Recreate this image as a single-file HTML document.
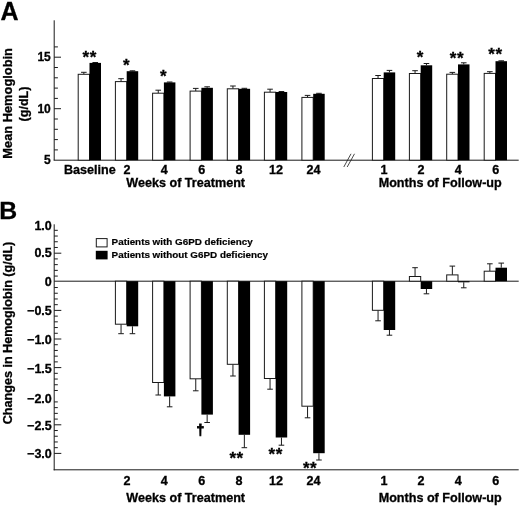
<!DOCTYPE html><html><head><meta charset="utf-8"><title>Figure</title>
<style>html,body{margin:0;padding:0;background:#fff;}svg{display:block;}text{font-family:"Liberation Sans",Arial,Helvetica,sans-serif;font-weight:bold;fill:#000;stroke:#000;stroke-width:0.3px;}</style></head><body>
<svg width="520" height="506" viewBox="0 0 520 506">
<rect width="520" height="506" fill="#fff"/>
<text x="0.40" y="19.70" font-size="25" text-anchor="start" >A</text>
<line x1="54.20" y1="20.30" x2="54.20" y2="160.30" stroke="#1a1a1a" stroke-width="1.0"/>
<line x1="53.70" y1="160.20" x2="518.70" y2="160.20" stroke="#1a1a1a" stroke-width="1.0"/>
<line x1="54.20" y1="149.90" x2="57.90" y2="149.90" stroke="#1a1a1a" stroke-width="1.0"/>
<line x1="54.20" y1="139.60" x2="57.90" y2="139.60" stroke="#1a1a1a" stroke-width="1.0"/>
<line x1="54.20" y1="129.30" x2="57.90" y2="129.30" stroke="#1a1a1a" stroke-width="1.0"/>
<line x1="54.20" y1="119.00" x2="57.90" y2="119.00" stroke="#1a1a1a" stroke-width="1.0"/>
<line x1="54.20" y1="108.70" x2="61.00" y2="108.70" stroke="#1a1a1a" stroke-width="1.0"/>
<line x1="54.20" y1="98.40" x2="57.90" y2="98.40" stroke="#1a1a1a" stroke-width="1.0"/>
<line x1="54.20" y1="88.10" x2="57.90" y2="88.10" stroke="#1a1a1a" stroke-width="1.0"/>
<line x1="54.20" y1="77.80" x2="57.90" y2="77.80" stroke="#1a1a1a" stroke-width="1.0"/>
<line x1="54.20" y1="67.50" x2="57.90" y2="67.50" stroke="#1a1a1a" stroke-width="1.0"/>
<line x1="54.20" y1="57.20" x2="61.00" y2="57.20" stroke="#1a1a1a" stroke-width="1.0"/>
<line x1="54.20" y1="46.90" x2="57.90" y2="46.90" stroke="#1a1a1a" stroke-width="1.0"/>
<text x="50.80" y="61.20" font-size="12.0" text-anchor="end" >15</text>
<text x="50.80" y="113.00" font-size="12.0" text-anchor="end" >10</text>
<text x="50.80" y="164.40" font-size="12.0" text-anchor="end" >5</text>
<text transform="translate(12.2,103.4) rotate(-90)" font-size="12.85" text-anchor="middle">Mean Hemoglobin</text>
<text transform="translate(27.6,104) rotate(-90)" font-size="12.6" text-anchor="middle">(g/dL)</text>
<line x1="83.85" y1="74.30" x2="83.85" y2="72.30" stroke="#1a1a1a" stroke-width="1.0"/>
<line x1="81.05" y1="72.30" x2="86.65" y2="72.30" stroke="#1a1a1a" stroke-width="1.0"/>
<line x1="95.25" y1="62.90" x2="95.25" y2="62.50" stroke="#1a1a1a" stroke-width="1.0"/>
<line x1="92.45" y1="62.50" x2="98.05" y2="62.50" stroke="#1a1a1a" stroke-width="1.0"/>
<rect x="78.20" y="74.30" width="11.30" height="85.90" fill="#fff" stroke="#1a1a1a" stroke-width="1"/>
<rect x="89.50" y="62.90" width="11.50" height="97.30" fill="#000"/>
<line x1="121.05" y1="81.60" x2="121.05" y2="78.70" stroke="#1a1a1a" stroke-width="1.0"/>
<line x1="118.25" y1="78.70" x2="123.85" y2="78.70" stroke="#1a1a1a" stroke-width="1.0"/>
<line x1="132.45" y1="71.20" x2="132.45" y2="70.80" stroke="#1a1a1a" stroke-width="1.0"/>
<line x1="129.65" y1="70.80" x2="135.25" y2="70.80" stroke="#1a1a1a" stroke-width="1.0"/>
<rect x="115.40" y="81.60" width="11.30" height="78.60" fill="#fff" stroke="#1a1a1a" stroke-width="1"/>
<rect x="126.70" y="71.20" width="11.50" height="89.00" fill="#000"/>
<line x1="158.25" y1="93.20" x2="158.25" y2="90.20" stroke="#1a1a1a" stroke-width="1.0"/>
<line x1="155.45" y1="90.20" x2="161.05" y2="90.20" stroke="#1a1a1a" stroke-width="1.0"/>
<line x1="169.65" y1="82.40" x2="169.65" y2="82.00" stroke="#1a1a1a" stroke-width="1.0"/>
<line x1="166.85" y1="82.00" x2="172.45" y2="82.00" stroke="#1a1a1a" stroke-width="1.0"/>
<rect x="152.60" y="93.20" width="11.30" height="67.00" fill="#fff" stroke="#1a1a1a" stroke-width="1"/>
<rect x="163.90" y="82.40" width="11.50" height="77.80" fill="#000"/>
<line x1="195.75" y1="91.10" x2="195.75" y2="88.40" stroke="#1a1a1a" stroke-width="1.0"/>
<line x1="192.95" y1="88.40" x2="198.55" y2="88.40" stroke="#1a1a1a" stroke-width="1.0"/>
<line x1="207.15" y1="87.80" x2="207.15" y2="86.80" stroke="#1a1a1a" stroke-width="1.0"/>
<line x1="204.35" y1="86.80" x2="209.95" y2="86.80" stroke="#1a1a1a" stroke-width="1.0"/>
<rect x="190.10" y="91.10" width="11.30" height="69.10" fill="#fff" stroke="#1a1a1a" stroke-width="1"/>
<rect x="201.40" y="87.80" width="11.50" height="72.40" fill="#000"/>
<line x1="232.95" y1="88.80" x2="232.95" y2="86.00" stroke="#1a1a1a" stroke-width="1.0"/>
<line x1="230.15" y1="86.00" x2="235.75" y2="86.00" stroke="#1a1a1a" stroke-width="1.0"/>
<line x1="244.35" y1="88.80" x2="244.35" y2="88.30" stroke="#1a1a1a" stroke-width="1.0"/>
<line x1="241.55" y1="88.30" x2="247.15" y2="88.30" stroke="#1a1a1a" stroke-width="1.0"/>
<rect x="227.30" y="88.80" width="11.30" height="71.40" fill="#fff" stroke="#1a1a1a" stroke-width="1"/>
<rect x="238.60" y="88.80" width="11.50" height="71.40" fill="#000"/>
<line x1="270.05" y1="92.20" x2="270.05" y2="89.20" stroke="#1a1a1a" stroke-width="1.0"/>
<line x1="267.25" y1="89.20" x2="272.85" y2="89.20" stroke="#1a1a1a" stroke-width="1.0"/>
<line x1="281.45" y1="92.00" x2="281.45" y2="91.50" stroke="#1a1a1a" stroke-width="1.0"/>
<line x1="278.65" y1="91.50" x2="284.25" y2="91.50" stroke="#1a1a1a" stroke-width="1.0"/>
<rect x="264.40" y="92.20" width="11.30" height="68.00" fill="#fff" stroke="#1a1a1a" stroke-width="1"/>
<rect x="275.70" y="92.00" width="11.50" height="68.20" fill="#000"/>
<line x1="307.55" y1="97.40" x2="307.55" y2="95.40" stroke="#1a1a1a" stroke-width="1.0"/>
<line x1="304.75" y1="95.40" x2="310.35" y2="95.40" stroke="#1a1a1a" stroke-width="1.0"/>
<line x1="318.95" y1="93.80" x2="318.95" y2="93.30" stroke="#1a1a1a" stroke-width="1.0"/>
<line x1="316.15" y1="93.30" x2="321.75" y2="93.30" stroke="#1a1a1a" stroke-width="1.0"/>
<rect x="301.90" y="97.40" width="11.30" height="62.80" fill="#fff" stroke="#1a1a1a" stroke-width="1"/>
<rect x="313.20" y="93.80" width="11.50" height="66.40" fill="#000"/>
<line x1="378.05" y1="78.50" x2="378.05" y2="75.50" stroke="#1a1a1a" stroke-width="1.0"/>
<line x1="375.25" y1="75.50" x2="380.85" y2="75.50" stroke="#1a1a1a" stroke-width="1.0"/>
<line x1="389.45" y1="72.40" x2="389.45" y2="70.40" stroke="#1a1a1a" stroke-width="1.0"/>
<line x1="386.65" y1="70.40" x2="392.25" y2="70.40" stroke="#1a1a1a" stroke-width="1.0"/>
<rect x="372.40" y="78.50" width="11.30" height="81.70" fill="#fff" stroke="#1a1a1a" stroke-width="1"/>
<rect x="383.70" y="72.40" width="11.50" height="87.80" fill="#000"/>
<line x1="415.05" y1="73.50" x2="415.05" y2="70.70" stroke="#1a1a1a" stroke-width="1.0"/>
<line x1="412.25" y1="70.70" x2="417.85" y2="70.70" stroke="#1a1a1a" stroke-width="1.0"/>
<line x1="426.45" y1="65.30" x2="426.45" y2="63.50" stroke="#1a1a1a" stroke-width="1.0"/>
<line x1="423.65" y1="63.50" x2="429.25" y2="63.50" stroke="#1a1a1a" stroke-width="1.0"/>
<rect x="409.40" y="73.50" width="11.30" height="86.70" fill="#fff" stroke="#1a1a1a" stroke-width="1"/>
<rect x="420.70" y="65.30" width="11.50" height="94.90" fill="#000"/>
<line x1="452.35" y1="74.20" x2="452.35" y2="72.40" stroke="#1a1a1a" stroke-width="1.0"/>
<line x1="449.55" y1="72.40" x2="455.15" y2="72.40" stroke="#1a1a1a" stroke-width="1.0"/>
<line x1="463.75" y1="64.40" x2="463.75" y2="62.80" stroke="#1a1a1a" stroke-width="1.0"/>
<line x1="460.95" y1="62.80" x2="466.55" y2="62.80" stroke="#1a1a1a" stroke-width="1.0"/>
<rect x="446.70" y="74.20" width="11.30" height="86.00" fill="#fff" stroke="#1a1a1a" stroke-width="1"/>
<rect x="458.00" y="64.40" width="11.50" height="95.80" fill="#000"/>
<line x1="489.85" y1="73.40" x2="489.85" y2="71.70" stroke="#1a1a1a" stroke-width="1.0"/>
<line x1="487.05" y1="71.70" x2="492.65" y2="71.70" stroke="#1a1a1a" stroke-width="1.0"/>
<line x1="501.25" y1="61.20" x2="501.25" y2="60.80" stroke="#1a1a1a" stroke-width="1.0"/>
<line x1="498.45" y1="60.80" x2="504.05" y2="60.80" stroke="#1a1a1a" stroke-width="1.0"/>
<rect x="484.20" y="73.40" width="11.30" height="86.80" fill="#fff" stroke="#1a1a1a" stroke-width="1"/>
<rect x="495.50" y="61.20" width="11.50" height="99.00" fill="#000"/>
<text x="89.80" y="173.50" font-size="12.6" text-anchor="middle" >Baseline</text>
<text x="127.00" y="173.50" font-size="12.6" text-anchor="middle" >2</text>
<text x="164.20" y="173.50" font-size="12.6" text-anchor="middle" >4</text>
<text x="201.70" y="173.50" font-size="12.6" text-anchor="middle" >6</text>
<text x="238.90" y="173.50" font-size="12.6" text-anchor="middle" >8</text>
<text x="276.00" y="173.50" font-size="12.6" text-anchor="middle" >12</text>
<text x="313.50" y="173.50" font-size="12.6" text-anchor="middle" >24</text>
<text x="384.00" y="173.50" font-size="12.6" text-anchor="middle" >1</text>
<text x="421.00" y="173.50" font-size="12.6" text-anchor="middle" >2</text>
<text x="458.30" y="173.50" font-size="12.6" text-anchor="middle" >4</text>
<text x="495.80" y="173.50" font-size="12.6" text-anchor="middle" >6</text>
<text x="185.70" y="187.30" font-size="12.6" text-anchor="middle" >Weeks of Treatment</text>
<text x="440.20" y="187.30" font-size="12.6" text-anchor="middle" >Months of Follow-up</text>
<line x1="343.80" y1="167.00" x2="351.00" y2="153.80" stroke="#1a1a1a" stroke-width="0.8"/>
<line x1="347.20" y1="167.00" x2="354.50" y2="153.80" stroke="#1a1a1a" stroke-width="0.8"/>
<text x="89.80" y="62.50" font-size="17" text-anchor="middle" letter-spacing="0.6">**</text>
<text x="126.40" y="70.80" font-size="17" text-anchor="middle" >*</text>
<text x="163.40" y="82.00" font-size="17" text-anchor="middle" >*</text>
<text x="420.00" y="63.00" font-size="17" text-anchor="middle" >*</text>
<text x="456.90" y="63.60" font-size="17" text-anchor="middle" letter-spacing="0.6">**</text>
<text x="495.40" y="60.40" font-size="17" text-anchor="middle" letter-spacing="0.6">**</text>
<text x="-0.80" y="219.40" font-size="24.8" text-anchor="start" >B</text>
<line x1="54.20" y1="224.30" x2="54.20" y2="470.30" stroke="#1a1a1a" stroke-width="1.0"/>
<line x1="53.70" y1="469.80" x2="518.70" y2="469.80" stroke="#1a1a1a" stroke-width="1.0"/>
<line x1="54.20" y1="281.20" x2="518.70" y2="281.20" stroke="#1a1a1a" stroke-width="1.0"/>
<line x1="54.20" y1="230.32" x2="57.80" y2="230.32" stroke="#1a1a1a" stroke-width="1.0"/>
<line x1="54.20" y1="236.04" x2="57.80" y2="236.04" stroke="#1a1a1a" stroke-width="1.0"/>
<line x1="54.20" y1="241.76" x2="57.80" y2="241.76" stroke="#1a1a1a" stroke-width="1.0"/>
<line x1="54.20" y1="247.48" x2="57.80" y2="247.48" stroke="#1a1a1a" stroke-width="1.0"/>
<line x1="54.20" y1="253.20" x2="61.30" y2="253.20" stroke="#1a1a1a" stroke-width="1.0"/>
<line x1="54.20" y1="258.92" x2="57.80" y2="258.92" stroke="#1a1a1a" stroke-width="1.0"/>
<line x1="54.20" y1="264.64" x2="57.80" y2="264.64" stroke="#1a1a1a" stroke-width="1.0"/>
<line x1="54.20" y1="270.36" x2="57.80" y2="270.36" stroke="#1a1a1a" stroke-width="1.0"/>
<line x1="54.20" y1="276.08" x2="57.80" y2="276.08" stroke="#1a1a1a" stroke-width="1.0"/>
<line x1="54.20" y1="287.52" x2="57.80" y2="287.52" stroke="#1a1a1a" stroke-width="1.0"/>
<line x1="54.20" y1="293.24" x2="57.80" y2="293.24" stroke="#1a1a1a" stroke-width="1.0"/>
<line x1="54.20" y1="298.96" x2="57.80" y2="298.96" stroke="#1a1a1a" stroke-width="1.0"/>
<line x1="54.20" y1="304.68" x2="57.80" y2="304.68" stroke="#1a1a1a" stroke-width="1.0"/>
<line x1="54.20" y1="310.40" x2="61.30" y2="310.40" stroke="#1a1a1a" stroke-width="1.0"/>
<line x1="54.20" y1="316.12" x2="57.80" y2="316.12" stroke="#1a1a1a" stroke-width="1.0"/>
<line x1="54.20" y1="321.84" x2="57.80" y2="321.84" stroke="#1a1a1a" stroke-width="1.0"/>
<line x1="54.20" y1="327.56" x2="57.80" y2="327.56" stroke="#1a1a1a" stroke-width="1.0"/>
<line x1="54.20" y1="333.28" x2="57.80" y2="333.28" stroke="#1a1a1a" stroke-width="1.0"/>
<line x1="54.20" y1="339.00" x2="61.30" y2="339.00" stroke="#1a1a1a" stroke-width="1.0"/>
<line x1="54.20" y1="344.72" x2="57.80" y2="344.72" stroke="#1a1a1a" stroke-width="1.0"/>
<line x1="54.20" y1="350.44" x2="57.80" y2="350.44" stroke="#1a1a1a" stroke-width="1.0"/>
<line x1="54.20" y1="356.16" x2="57.80" y2="356.16" stroke="#1a1a1a" stroke-width="1.0"/>
<line x1="54.20" y1="361.88" x2="57.80" y2="361.88" stroke="#1a1a1a" stroke-width="1.0"/>
<line x1="54.20" y1="367.60" x2="61.30" y2="367.60" stroke="#1a1a1a" stroke-width="1.0"/>
<line x1="54.20" y1="373.32" x2="57.80" y2="373.32" stroke="#1a1a1a" stroke-width="1.0"/>
<line x1="54.20" y1="379.04" x2="57.80" y2="379.04" stroke="#1a1a1a" stroke-width="1.0"/>
<line x1="54.20" y1="384.76" x2="57.80" y2="384.76" stroke="#1a1a1a" stroke-width="1.0"/>
<line x1="54.20" y1="390.48" x2="57.80" y2="390.48" stroke="#1a1a1a" stroke-width="1.0"/>
<line x1="54.20" y1="401.92" x2="57.80" y2="401.92" stroke="#1a1a1a" stroke-width="1.0"/>
<line x1="54.20" y1="407.64" x2="57.80" y2="407.64" stroke="#1a1a1a" stroke-width="1.0"/>
<line x1="54.20" y1="413.36" x2="57.80" y2="413.36" stroke="#1a1a1a" stroke-width="1.0"/>
<line x1="54.20" y1="419.08" x2="57.80" y2="419.08" stroke="#1a1a1a" stroke-width="1.0"/>
<line x1="54.20" y1="424.80" x2="61.30" y2="424.80" stroke="#1a1a1a" stroke-width="1.0"/>
<line x1="54.20" y1="430.52" x2="57.80" y2="430.52" stroke="#1a1a1a" stroke-width="1.0"/>
<line x1="54.20" y1="436.24" x2="57.80" y2="436.24" stroke="#1a1a1a" stroke-width="1.0"/>
<line x1="54.20" y1="441.96" x2="57.80" y2="441.96" stroke="#1a1a1a" stroke-width="1.0"/>
<line x1="54.20" y1="447.68" x2="57.80" y2="447.68" stroke="#1a1a1a" stroke-width="1.0"/>
<line x1="54.20" y1="453.40" x2="61.30" y2="453.40" stroke="#1a1a1a" stroke-width="1.0"/>
<text x="51.80" y="229.70" font-size="12.5" text-anchor="end" >1.0</text>
<text x="51.80" y="256.60" font-size="12.5" text-anchor="end" >0.5</text>
<text x="51.80" y="285.90" font-size="12.5" text-anchor="end" >0</text>
<text x="51.80" y="314.90" font-size="12.5" text-anchor="end" >−0.5</text>
<text x="51.80" y="343.70" font-size="12.5" text-anchor="end" >−1.0</text>
<text x="51.80" y="372.60" font-size="12.5" text-anchor="end" >−1.5</text>
<text x="51.80" y="403.30" font-size="12.5" text-anchor="end" >−2.0</text>
<text x="51.80" y="429.60" font-size="12.5" text-anchor="end" >−2.5</text>
<text x="51.80" y="457.90" font-size="12.5" text-anchor="end" >−3.0</text>
<text transform="translate(12.0,333) rotate(-90)" font-size="12.6" text-anchor="middle">Changes in Hemoglobin (g/dL)</text>
<rect x="96.3" y="238.6" width="10.8" height="8.3" fill="#fff" stroke="#1a1a1a" stroke-width="1"/>
<rect x="95.8" y="250.8" width="11.8" height="8.6" fill="#000"/>
<text x="111.60" y="245.30" font-size="9.85" text-anchor="start" style="stroke-width:0.2px">Patients with G6PD deficiency</text>
<text x="111.60" y="258.30" font-size="9.85" text-anchor="start" style="stroke-width:0.2px">Patients without G6PD deficiency</text>
<line x1="121.05" y1="324.20" x2="121.05" y2="333.70" stroke="#1a1a1a" stroke-width="1.0"/>
<line x1="118.25" y1="333.70" x2="123.85" y2="333.70" stroke="#1a1a1a" stroke-width="1.0"/>
<line x1="132.45" y1="326.30" x2="132.45" y2="333.70" stroke="#1a1a1a" stroke-width="1.0"/>
<line x1="129.65" y1="333.70" x2="135.25" y2="333.70" stroke="#1a1a1a" stroke-width="1.0"/>
<rect x="115.40" y="281.20" width="11.30" height="43.00" fill="#fff" stroke="#1a1a1a" stroke-width="1"/>
<rect x="126.70" y="281.20" width="11.50" height="45.10" fill="#000"/>
<line x1="158.25" y1="382.50" x2="158.25" y2="395.00" stroke="#1a1a1a" stroke-width="1.0"/>
<line x1="155.45" y1="395.00" x2="161.05" y2="395.00" stroke="#1a1a1a" stroke-width="1.0"/>
<line x1="169.65" y1="396.40" x2="169.65" y2="406.80" stroke="#1a1a1a" stroke-width="1.0"/>
<line x1="166.85" y1="406.80" x2="172.45" y2="406.80" stroke="#1a1a1a" stroke-width="1.0"/>
<rect x="152.60" y="281.20" width="11.30" height="101.30" fill="#fff" stroke="#1a1a1a" stroke-width="1"/>
<rect x="163.90" y="281.20" width="11.50" height="115.20" fill="#000"/>
<line x1="195.75" y1="378.80" x2="195.75" y2="390.80" stroke="#1a1a1a" stroke-width="1.0"/>
<line x1="192.95" y1="390.80" x2="198.55" y2="390.80" stroke="#1a1a1a" stroke-width="1.0"/>
<line x1="207.15" y1="414.60" x2="207.15" y2="422.50" stroke="#1a1a1a" stroke-width="1.0"/>
<line x1="204.35" y1="422.50" x2="209.95" y2="422.50" stroke="#1a1a1a" stroke-width="1.0"/>
<rect x="190.10" y="281.20" width="11.30" height="97.60" fill="#fff" stroke="#1a1a1a" stroke-width="1"/>
<rect x="201.40" y="281.20" width="11.50" height="133.40" fill="#000"/>
<line x1="232.95" y1="364.30" x2="232.95" y2="376.00" stroke="#1a1a1a" stroke-width="1.0"/>
<line x1="230.15" y1="376.00" x2="235.75" y2="376.00" stroke="#1a1a1a" stroke-width="1.0"/>
<line x1="244.35" y1="434.80" x2="244.35" y2="447.70" stroke="#1a1a1a" stroke-width="1.0"/>
<line x1="241.55" y1="447.70" x2="247.15" y2="447.70" stroke="#1a1a1a" stroke-width="1.0"/>
<rect x="227.30" y="281.20" width="11.30" height="83.10" fill="#fff" stroke="#1a1a1a" stroke-width="1"/>
<rect x="238.60" y="281.20" width="11.50" height="153.60" fill="#000"/>
<line x1="270.05" y1="378.50" x2="270.05" y2="389.20" stroke="#1a1a1a" stroke-width="1.0"/>
<line x1="267.25" y1="389.20" x2="272.85" y2="389.20" stroke="#1a1a1a" stroke-width="1.0"/>
<line x1="281.45" y1="437.50" x2="281.45" y2="445.20" stroke="#1a1a1a" stroke-width="1.0"/>
<line x1="278.65" y1="445.20" x2="284.25" y2="445.20" stroke="#1a1a1a" stroke-width="1.0"/>
<rect x="264.40" y="281.20" width="11.30" height="97.30" fill="#fff" stroke="#1a1a1a" stroke-width="1"/>
<rect x="275.70" y="281.20" width="11.50" height="156.30" fill="#000"/>
<line x1="307.55" y1="406.20" x2="307.55" y2="417.80" stroke="#1a1a1a" stroke-width="1.0"/>
<line x1="304.75" y1="417.80" x2="310.35" y2="417.80" stroke="#1a1a1a" stroke-width="1.0"/>
<line x1="318.95" y1="453.20" x2="318.95" y2="460.00" stroke="#1a1a1a" stroke-width="1.0"/>
<line x1="316.15" y1="460.00" x2="321.75" y2="460.00" stroke="#1a1a1a" stroke-width="1.0"/>
<rect x="301.90" y="281.20" width="11.30" height="125.00" fill="#fff" stroke="#1a1a1a" stroke-width="1"/>
<rect x="313.20" y="281.20" width="11.50" height="172.00" fill="#000"/>
<line x1="378.05" y1="310.30" x2="378.05" y2="320.80" stroke="#1a1a1a" stroke-width="1.0"/>
<line x1="375.25" y1="320.80" x2="380.85" y2="320.80" stroke="#1a1a1a" stroke-width="1.0"/>
<line x1="389.45" y1="330.00" x2="389.45" y2="335.20" stroke="#1a1a1a" stroke-width="1.0"/>
<line x1="386.65" y1="335.20" x2="392.25" y2="335.20" stroke="#1a1a1a" stroke-width="1.0"/>
<rect x="372.40" y="281.20" width="11.30" height="29.10" fill="#fff" stroke="#1a1a1a" stroke-width="1"/>
<rect x="383.70" y="281.20" width="11.50" height="48.80" fill="#000"/>
<line x1="415.05" y1="276.50" x2="415.05" y2="267.70" stroke="#1a1a1a" stroke-width="1.0"/>
<line x1="412.25" y1="267.70" x2="417.85" y2="267.70" stroke="#1a1a1a" stroke-width="1.0"/>
<line x1="426.45" y1="289.00" x2="426.45" y2="293.80" stroke="#1a1a1a" stroke-width="1.0"/>
<line x1="423.65" y1="293.80" x2="429.25" y2="293.80" stroke="#1a1a1a" stroke-width="1.0"/>
<rect x="409.40" y="276.50" width="11.30" height="4.70" fill="#fff" stroke="#1a1a1a" stroke-width="1"/>
<rect x="420.70" y="281.20" width="11.50" height="7.80" fill="#000"/>
<line x1="452.35" y1="274.90" x2="452.35" y2="266.10" stroke="#1a1a1a" stroke-width="1.0"/>
<line x1="449.55" y1="266.10" x2="455.15" y2="266.10" stroke="#1a1a1a" stroke-width="1.0"/>
<line x1="463.75" y1="282.30" x2="463.75" y2="287.80" stroke="#1a1a1a" stroke-width="1.0"/>
<line x1="460.95" y1="287.80" x2="466.55" y2="287.80" stroke="#1a1a1a" stroke-width="1.0"/>
<rect x="446.70" y="274.90" width="11.30" height="6.30" fill="#fff" stroke="#1a1a1a" stroke-width="1"/>
<rect x="458.00" y="281.20" width="11.50" height="1.10" fill="#000"/>
<line x1="489.85" y1="271.20" x2="489.85" y2="263.80" stroke="#1a1a1a" stroke-width="1.0"/>
<line x1="487.05" y1="263.80" x2="492.65" y2="263.80" stroke="#1a1a1a" stroke-width="1.0"/>
<line x1="501.25" y1="267.70" x2="501.25" y2="263.10" stroke="#1a1a1a" stroke-width="1.0"/>
<line x1="498.45" y1="263.10" x2="504.05" y2="263.10" stroke="#1a1a1a" stroke-width="1.0"/>
<rect x="484.20" y="271.20" width="11.30" height="10.00" fill="#fff" stroke="#1a1a1a" stroke-width="1"/>
<rect x="495.50" y="267.70" width="11.50" height="13.50" fill="#000"/>
<text x="127.00" y="484.50" font-size="12.6" text-anchor="middle" >2</text>
<text x="164.20" y="484.50" font-size="12.6" text-anchor="middle" >4</text>
<text x="201.70" y="484.50" font-size="12.6" text-anchor="middle" >6</text>
<text x="238.90" y="484.50" font-size="12.6" text-anchor="middle" >8</text>
<text x="276.00" y="484.50" font-size="12.6" text-anchor="middle" >12</text>
<text x="313.50" y="484.50" font-size="12.6" text-anchor="middle" >24</text>
<text x="384.00" y="484.50" font-size="12.6" text-anchor="middle" >1</text>
<text x="421.00" y="484.50" font-size="12.6" text-anchor="middle" >2</text>
<text x="458.30" y="484.50" font-size="12.6" text-anchor="middle" >4</text>
<text x="495.80" y="484.50" font-size="12.6" text-anchor="middle" >6</text>
<text x="185.70" y="501.70" font-size="12.6" text-anchor="middle" >Weeks of Treatment</text>
<text x="440.20" y="501.70" font-size="12.6" text-anchor="middle" >Months of Follow-up</text>
<text x="200.50" y="434.60" font-size="14" text-anchor="middle" style="stroke-width:0.8px">†</text>
<text x="236.60" y="463.50" font-size="17" text-anchor="middle" letter-spacing="0.6">**</text>
<text x="275.70" y="459.80" font-size="17" text-anchor="middle" letter-spacing="0.6">**</text>
<text x="310.10" y="473.60" font-size="17" text-anchor="middle" letter-spacing="0.6">**</text>
</svg></body></html>
